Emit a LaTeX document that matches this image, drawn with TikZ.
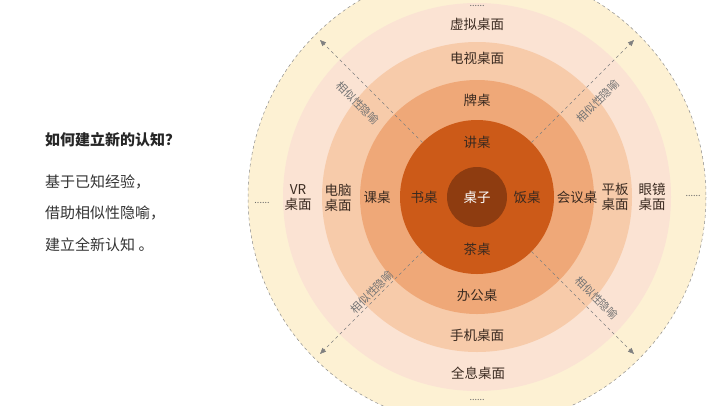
\documentclass[tikz,border=0pt]{standalone}
\usepackage{fontspec}
\setmainfont{Noto Sans CJK SC}
\usetikzlibrary{arrows.meta,calc}
\definecolor{cA}{HTML}{8E3C10}
\definecolor{cB}{HTML}{CC5A18}
\definecolor{cC}{HTML}{EFA878}
\definecolor{cD}{HTML}{F7CBAA}
\definecolor{cE}{HTML}{FBE3D3}
\definecolor{cF}{HTML}{FDF1D3}
\definecolor{tx}{HTML}{3A2A20}
\tikzset{lbl/.style={font=\fontsize{13.5}{15}\selectfont,text=tx,align=center,inner sep=0pt},
 mt/.style={font=\fontsize{11}{12}\selectfont,text=black!55,inner sep=0pt},
 arr/.style={dashed,draw=black!50,line width=0.5pt,-{Triangle[length=6pt,width=5pt]}},
 dots/.style={font=\fontsize{9}{9}\selectfont,text=black!60,inner sep=0pt}}
\begin{document}
\begin{tikzpicture}[x=1pt,y=-1pt]
\useasboundingbox (0,0) rectangle (720,405);
\begin{scope}
\clip (0,0) rectangle (720,405);
\fill[cF] (477,197) circle (229);
\draw[dashed,black!45,line width=0.5pt] (477,197) circle (229);
\fill[cE] (477,197) circle (194);
\fill[cD] (477,197) circle (155);
\fill[cC] (477,197) circle (117);
\fill[cB] (477,197) circle (77);
\fill[cA] (477,197) circle (30);
\end{scope}
\coordinate (c) at (477,197);
\foreach \a/\n in {45/a,135/b,225/d,315/e}{
 \coordinate (s\n) at ($(c)+(\a:77)$);
 \coordinate (t\n) at ($(c)+(\a:222)$);
 \draw[arr] (s\n) -- (t\n);}
\node[mt,rotate=-45] (m1) at (358,103) {相似性隐喻};
\node[mt,rotate=45] (m2) at (598,101) {相似性隐喻};
\node[mt,rotate=45] (m3) at (372,292) {相似性隐喻};
\node[mt,rotate=-45] (m4) at (597,298) {相似性隐喻};
\node[dots] (d1) at (477,6) {......};
\node[dots] (d2) at (477,400) {......};
\node[dots] (d3) at (262,203) {......};
\node[dots] (d4) at (693,196) {......};
\node[lbl] (n1) at (477,24) {虚拟桌面};
\node[lbl] (n2) at (477,58) {电视桌面};
\node[lbl] (n3) at (477,100) {牌桌};
\node[lbl] (n4) at (477,142) {讲桌};
\node[lbl,text=white] (n0) at (477,197) {桌子};
\node[lbl] (n5) at (477,249) {茶桌};
\node[lbl] (n6) at (477,295) {办公桌};
\node[lbl] (n7) at (477,335) {手机桌面};
\node[lbl] (n8) at (478,373) {全息桌面};
\node[lbl] (w1) at (298,198) {VR\\桌面};
\node[lbl] (w2) at (338,198) {电脑\\桌面};
\node[lbl] (w3) at (377,197) {课桌};
\node[lbl] (w4) at (424,197) {书桌};
\node[lbl] (e1) at (527,197) {饭桌};
\node[lbl] (e2) at (577,197) {会议桌};
\node[lbl] (e3) at (615,197) {平板\\桌面};
\node[lbl] (e4) at (652,197) {眼镜\\桌面};
\node[anchor=west,font=\fontsize{15}{17}\selectfont\bfseries,text=black!85,inner sep=0pt] (h) at (45,140) {如何建立新的认知？};
\node[anchor=west,font=\fontsize{15}{17}\selectfont,text=black!80,inner sep=0pt] (l1) at (45,182) {基于已知经验，};
\node[anchor=west,font=\fontsize{15}{17}\selectfont,text=black!80,inner sep=0pt] (l2) at (45,213) {借助相似性隐喻，};
\node[anchor=west,font=\fontsize{15}{17}\selectfont,text=black!80,inner sep=0pt] (l3) at (45,245) {建立全新认知 。};
\end{tikzpicture}
\end{document}
